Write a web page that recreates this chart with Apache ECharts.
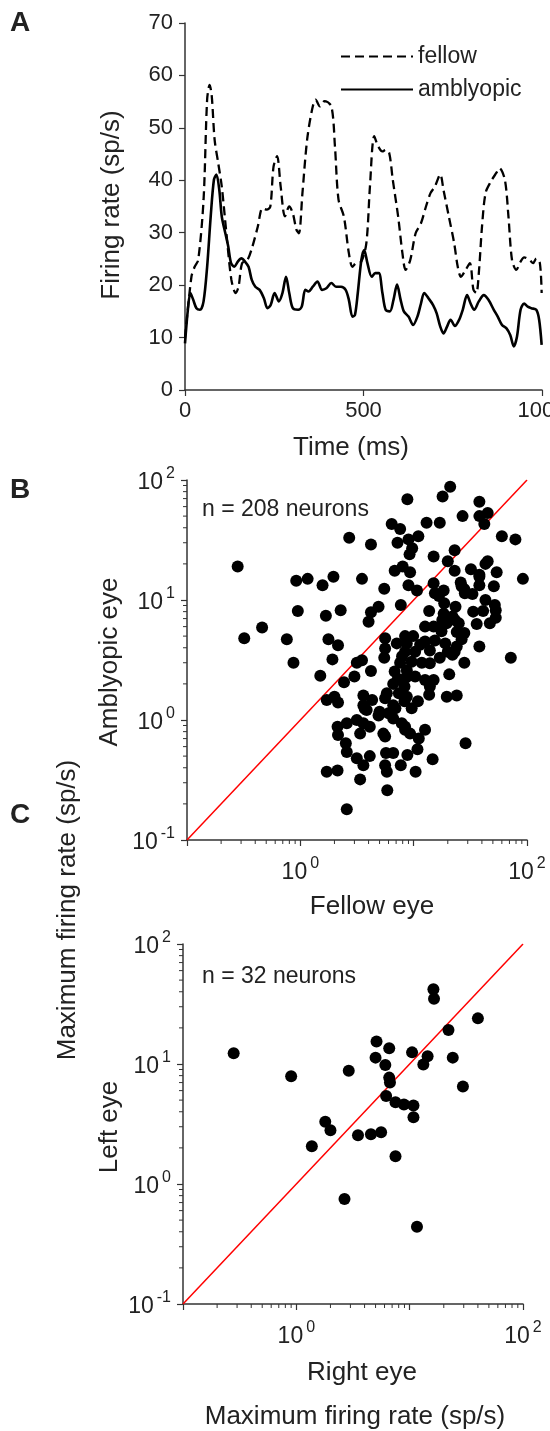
<!DOCTYPE html>
<html>
<head>
<meta charset="utf-8">
<script src="https://cdn.jsdelivr.net/npm/echarts@6/dist/echarts.min.js"></script>
<style>
  html, body { margin: 0; padding: 0; background: #fff; }
  #chart { width: 550px; height: 1431px; }
</style>
</head>
<body>
<div id="chart"></div>
<script>
// ---- data ----
// panel A: firing rate over time, [ms, sp/s]
const fellowTrace = [[0,9.9],[18,21.6],[27,23.5],[37,24.8],[52,36.3],[62,55.4],[69,58.2],[75,56],[83,47.7],[93,43.3],[103,38.8],[116,29.9],[130,21],[142,18.5],[150,19.7],[160,24.2],[175,24.8],[189,27.4],[204,31.2],[217,34.7],[229,34.4],[239,35],[248,42.6],[258,44.6],[268,38.8],[280,33.1],[292,35],[302,33.7],[312,30.6],[319,29.9],[329,37.6],[342,47.7],[356,53.5],[366,55.4],[378,54.1],[391,55.1],[410,54.1],[420,46.5],[430,36.3],[445,33.1],[459,26.1],[469,23.5],[479,24.2],[494,24.5],[508,28],[518,38.8],[530,48.4],[541,46.5],[553,45.5],[562,45.8],[572,45.2],[582,40.1],[597,33.1],[609,26.1],[618,22.9],[631,24.8],[646,29.9],[661,31.8],[675,35],[688,37.6],[700,38.8],[715,41.1],[724,38.2],[739,33.1],[754,28],[764,23.5],[773,21.6],[786,22.9],[798,24.2],[808,19.1],[816,18.5],[823,22.3],[832,31.2],[842,37.6],[857,39.8],[872,41.4],[881,42.3],[896,40.1],[906,33.1],[916,24.8],[928,22.9],[940,24.5],[950,25.3],[965,24.8],[975,24.2],[984,25.1],[994,24.2],[999,18.5]];
const amblyopicTrace = [[0,8.9],[8,15.3],[15,18.5],[23,17.2],[32,15.6],[42,15.3],[52,16.9],[62,23.5],[72,33.1],[81,40.1],[88,41.1],[96,38.2],[103,33.1],[113,29.9],[121,27.4],[129,24.2],[138,23.5],[148,24.5],[158,25.1],[168,24.5],[178,23.5],[187,21],[197,19.7],[209,19.1],[221,17.5],[231,15.6],[240,16.2],[251,18.5],[263,16.9],[273,18.5],[283,21.6],[292,18.5],[302,15.6],[317,15.3],[327,15.9],[337,19.1],[346,18.8],[358,19.7],[371,20.7],[384,19.1],[396,19.4],[410,20.4],[423,19.7],[437,19.7],[450,19.1],[459,17.2],[469,14],[476,14.3],[484,18.5],[494,24.8],[502,26.7],[511,24.2],[523,21.6],[533,22.3],[543,22.3],[553,18.5],[562,15.3],[574,15],[584,17.2],[594,20.1],[604,17.2],[613,15],[626,14],[639,12.4],[651,14],[661,16.5],[670,18.5],[682,17.5],[695,16.2],[705,14.6],[715,12.1],[724,10.8],[734,12.1],[744,13.4],[756,12.2],[768,13.4],[778,15.3],[790,18.1],[800,16.5],[810,15.3],[823,16.9],[837,18.1],[850,17.2],[865,15.3],[876,14],[888,12.4],[900,11.8],[911,10.5],[921,8.3],[930,10.2],[940,15.3],[950,16.5],[960,15.9],[970,15.6],[984,15.3],[992,13.4],[999,8.6]];

// panel B: max firing rate, [fellow eye, amblyopic eye]
const fellowVsAmblyopic = [[21,88],[18,73],[8.8,69],[38,66],[27,50],[38,50],[45,53],[42,43],[6.4,43],[7.6,39],[13,44],[17,44],[2.7,33],[11,34],[9.0,32],[4.2,29],[7.2,30],[9.7,27],[9.2,24],[60,34],[79,32],[23,26],[15,23],[20,21],[0.28,19],[45,21],[43,20],[32,18],[54,17],[23,17.5],[8.0,19],[6.8,17.5],[9.3,17],[0.92,14.5],[1.16,15],[1.57,13.3],[1.96,15.6],[3.5,15],[92,15],[38,15.6],[26,14],[5.5,12.4],[9.0,13.3],[10.7,12],[15,13.8],[18.4,12],[16.7,10.8],[28,12.3],[38,13.3],[51,13],[33,11.2],[43,10],[7.7,9.1],[4.9,8.8],[4.2,7.9],[4.0,6.6],[0.95,8.1],[1.68,7.4],[2.27,8.2],[13.7,8.1],[18.6,9.4],[18.4,7.7],[23.4,8.8],[22,7.3],[33.5,8.0],[41,8.1],[53,8.2],[52,9.1],[36,6.3],[47,6.4],[25,6.4],[24,5.4],[28,5.3],[12.6,6.0],[15,6.0],[17,6.0],[19.5,6.4],[0.32,4.8],[0.46,5.9],[0.76,4.7],[1.77,4.7],[2.15,4.2],[0.87,3.0],[1.92,3.2],[3.15,3.0],[3.5,3.15],[5.6,4.8],[5.6,3.95],[5.5,3.3],[7.1,4.35],[8.4,5.0],[9.9,5.0],[8.7,4.35],[10.3,3.7],[12.6,4.5],[15.4,4.6],[13.9,3.8],[19,4.35],[24,4.1],[22,3.5],[38,4.1],[72,3.3],[7.9,3.4],[7.6,3.0],[9.6,3.06],[11.8,3.0],[13.9,2.97],[17,3.3],[20,3.7],[28,3.0],[20.6,2.4],[1.5,2.34],[3.0,2.3],[4.2,2.56],[2.43,2.06],[6.8,2.54],[7.25,2.2],[8.7,2.6],[8.6,2.27],[10.3,2.3],[12.6,2.15],[15,2.15],[13.9,1.9],[6.6,2.0],[8.3,1.9],[1.71,1.47],[2.0,1.56],[2.15,1.4],[3.6,1.6],[4.3,1.47],[3.85,1.21],[3.6,1.33],[4.9,1.09],[5.8,1.67],[5.6,1.52],[6.6,1.33],[7.4,1.67],[8.3,1.43],[8.7,1.56],[10.9,1.43],[9.6,1.25],[13.7,1.62],[19.6,1.56],[24,1.6],[6.0,1.14],[6.6,1.03],[2.13,0.88],[2.57,0.94],[3.15,1.0],[3.6,0.94],[4.1,0.88],[2.15,0.75],[3.37,0.77],[7.85,0.94],[8.4,0.83],[9.3,0.77],[12.6,0.83],[5.4,0.77],[5.6,0.73],[2.52,0.64],[11.1,0.70],[28.7,0.64],[2.57,0.54],[3.15,0.48],[3.6,0.42],[4.1,0.50],[5.7,0.53],[6.6,0.53],[8.8,0.51],[10.8,0.57],[14.7,0.47],[5.6,0.42],[5.8,0.37],[7.7,0.42],[1.71,0.37],[2.13,0.38],[3.37,0.32],[10.4,0.37],[5.85,0.26],[2.57,0.18],[26.5,13],[28.3,11.4],[38,16.2],[15.4,11.4],[17.6,5.5],[26.5,4.7],[11.4,4.24],[8.4,3.7],[23,3.7],[23.1,6.8],[17.9,6.8],[53,7.1],[6.9,1.25],[5.0,1.17],[3.7,1.24],[8.4,0.88]];

// panel C: max firing rate, [right eye, left eye]
const rightVsLeft = [[0.28,12.3],[0.90,7.9],[2.9,8.8],[5.1,15.4],[6.6,13.5],[5.0,11.3],[6.1,9.8],[6.6,7.7],[6.7,7.0],[6.2,5.4],[7.5,4.8],[8.9,4.6],[10.8,4.5],[10.8,3.6],[10.5,12.5],[14.4,11.6],[13.2,9.9],[16.2,42],[16.4,35],[40,24],[22,19.2],[24,11.3],[29.5,6.5],[1.8,3.3],[2.0,2.8],[1.37,2.06],[3.5,2.55],[4.55,2.6],[5.6,2.7],[7.5,1.7],[2.66,0.75],[11.6,0.44]];

// unity line and axis ranges
const unityLine = [[0.1, 0.1], [100, 100]];
const logRange = [0.1, 100];
const xLabelExponents = [0, 2];
const yLabelExponents = [-1, 0, 1, 2];
// minor ticks 2..9 in each decade
const minorTicks = [];
[0.1, 1, 10].forEach(d => { for (let m = 2; m <= 9; m++) minorTicks.push(+(m * d).toPrecision(2)); });

const FONT = "'Liberation Sans', Arial, sans-serif";
const TXT = '#222';
const AX = '#333';

const myChart = echarts.init(document.getElementById('chart'), null, {renderer: 'canvas'});

// 10^n label
function powLabel(show) {
    return {
        show: true,
        color: TXT,
        fontFamily: FONT,
        formatter: v => {
            const e = Math.round(Math.log10(v));
            if (show.indexOf(e) < 0) return '';
            return '{b|10}{s|' + e + '}';
        },
        rich: {
            b: {fontSize: 23, fontFamily: FONT, color: TXT, lineHeight: 28, verticalAlign: 'bottom'},
            s: {fontSize: 16, fontFamily: FONT, color: TXT, lineHeight: 28, verticalAlign: 'top', padding: [0, 0, 0, 3]}
        }
    };
}

function logAxis(gridIndex, labelExps, margin) {
    return {
        type: 'log', logBase: 10, gridIndex,
        min: logRange[0], max: logRange[1],
        axisLine: {show: true, lineStyle: {color: AX, width: 1.5}},
        axisTick: {show: true, inside: false, length: 6, lineStyle: {color: AX, width: 1.2}},
        axisLabel: Object.assign(powLabel(labelExps), {margin}),
        splitLine: {show: false},
        minorTick: {show: false}
    };
}

// custom series drawing minor ticks through the axis scale
function minorTickSeries(idx, dir) {
    return {
        type: 'custom', xAxisIndex: idx, yAxisIndex: idx, silent: true, clip: false, z: 1,
        data: minorTicks.map(v => [v, v]),
        renderItem: (params, api) => {
            const v = api.value(0);
            if (dir === 'x') {
                const p = api.coord([v, logRange[0]]);
                return {type: 'line', shape: {x1: p[0], y1: p[1], x2: p[0], y2: p[1] + 4}, style: {stroke: AX, lineWidth: 1}};
            }
            const p = api.coord([logRange[0], v]);
            return {type: 'line', shape: {x1: p[0], y1: p[1], x2: p[0] - 4, y2: p[1]}, style: {stroke: AX, lineWidth: 1}};
        }
    };
}

function txt(text, x, y, size, rot, bold) {
    const al = rot || bold === undefined ? 'center' : 'left';
    return {
        type: 'text', x, y, rotation: rot ? Math.PI / 2 : 0,
        style: {
            text, fill: TXT, font: (bold ? 'bold ' : '') + size + 'px ' + FONT,
            textAlign: al, textVerticalAlign: 'middle', align: al, verticalAlign: 'middle'
        }
    };
}

const option = {
    animation: false,
    backgroundColor: '#fff',
    grid: [
        {left: 185, top: 23, width: 357, height: 367, outerBoundsMode: 'none', containLabel: false},
        {left: 187, top: 480, width: 340, height: 360, outerBoundsMode: 'none', containLabel: false},
        {left: 183, top: 944, width: 340, height: 360, outerBoundsMode: 'none', containLabel: false}
    ],
    legend: {
        orient: 'vertical', left: 335, top: 40, itemWidth: 72, itemHeight: 14, itemGap: 10,
        textStyle: {fontSize: 23, fontFamily: FONT, color: TXT},
        itemStyle: {color: 'rgba(0,0,0,0)', borderWidth: 0, opacity: 0},
        data: ['fellow', 'amblyopic']
    },
    xAxis: [
        {
            type: 'value', gridIndex: 0, min: 0, max: 1000, interval: 500,
            axisLine: {show: true, lineStyle: {color: AX, width: 1.5}},
            axisTick: {show: true, inside: false, length: 6, lineStyle: {color: AX, width: 1.2}},
            axisLabel: {fontSize: 22, fontFamily: FONT, color: TXT, margin: 10, formatter: v => String(v)},
            splitLine: {show: false}
        },
        logAxis(1, xLabelExponents, 16),
        logAxis(2, xLabelExponents, 16)
    ],
    yAxis: [
        {
            type: 'value', gridIndex: 0, min: 0, max: 70, interval: 10,
            axisLine: {show: true, lineStyle: {color: AX, width: 1.5}},
            axisTick: {show: true, inside: false, length: 6, lineStyle: {color: AX, width: 1.2}},
            axisLabel: {fontSize: 22, fontFamily: FONT, color: TXT, margin: 12},
            splitLine: {show: false}
        },
        logAxis(1, yLabelExponents, 12),
        logAxis(2, yLabelExponents, 12)
    ],
    series: [
        {
            name: 'fellow', type: 'line', xAxisIndex: 0, yAxisIndex: 0, data: fellowTrace,
            smooth: 0.3, symbol: 'none', color: '#000',
            lineStyle: {color: '#000', width: 2.3, type: [9, 5]}
        },
        {
            name: 'amblyopic', type: 'line', xAxisIndex: 0, yAxisIndex: 0, data: amblyopicTrace,
            smooth: 0.3, symbol: 'none', color: '#000',
            lineStyle: {color: '#000', width: 2.6}
        },
        {
            type: 'line', xAxisIndex: 1, yAxisIndex: 1, data: unityLine, symbol: 'none', z: 3,
            lineStyle: {color: '#ff0000', width: 1.5}
        },
        {
            type: 'scatter', xAxisIndex: 1, yAxisIndex: 1, data: fellowVsAmblyopic,
            symbolSize: 12, itemStyle: {color: '#000', opacity: 1}, z: 4
        },
        {
            type: 'line', xAxisIndex: 2, yAxisIndex: 2, data: unityLine, symbol: 'none', z: 3,
            lineStyle: {color: '#ff0000', width: 1.5}
        },
        {
            type: 'scatter', xAxisIndex: 2, yAxisIndex: 2, data: rightVsLeft,
            symbolSize: 12, itemStyle: {color: '#000', opacity: 1}, z: 4
        },
        minorTickSeries(1, 'x'), minorTickSeries(1, 'y'),
        minorTickSeries(2, 'x'), minorTickSeries(2, 'y')
    ],
    graphic: [
        txt('A', 10, 23, 28, false, true),
        txt('B', 10, 490, 28, false, true),
        txt('C', 10, 815, 28, false, true),
        txt('n = 208 neurons', 202, 510, 23, false, false),
        txt('n = 32 neurons', 202, 977, 23, false, false),
        txt('Firing rate (sp/s)', 112, 205, 26, true),
        txt('Time (ms)', 351, 448, 26),
        txt('Amblyopic eye', 110, 662, 26, true),
        txt('Fellow eye', 372, 907, 26),
        txt('Left eye', 110, 1127, 26, true),
        txt('Right eye', 362, 1373, 26),
        txt('Maximum firing rate (sp/s)', 355, 1417, 26),
        txt('Maximum firing rate (sp/s)', 68, 910, 26, true)
    ]
};

myChart.setOption(option);
</script>
</body>
</html>
